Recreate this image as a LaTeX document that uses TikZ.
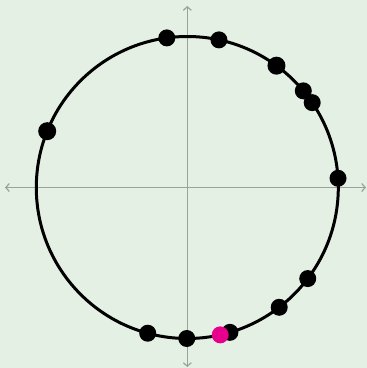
\documentclass[tikz,border=0pt]{standalone}
\usetikzlibrary{arrows.meta}
\definecolor{bgc}{RGB}{229,240,229}
\definecolor{axc}{RGB}{155,162,155}
\definecolor{mag}{RGB}{230,0,140}
\begin{document}
\begin{tikzpicture}[x=1pt,y=-1pt,
  axis/.style={draw=axc,line width=1.2pt,{Straight Barb[length=3.5pt,width=8pt]}-{Straight Barb[length=3.5pt,width=8pt]}},
  dot/.style={circle,fill=black,inner sep=0pt,minimum size=17pt},
  pdot/.style={circle,fill=mag,inner sep=0pt,minimum size=17pt},
  ring/.style={draw=black,line width=3pt}]
\fill[bgc] (0,0) rectangle (367,368);
\useasboundingbox (0,0) rectangle (367,368);
\coordinate (O) at (187.3,187.5);
\coordinate (xl) at (5,187.5);
\coordinate (xr) at (366,187.5);
\coordinate (yt) at (187.3,6);
\coordinate (yb) at (187.3,367);
\draw[axis] (xl) -- (xr);
\draw[axis] (yb) -- (yt);
\draw[ring] (O) circle[radius=151];
\begin{scope}[shift={(187.3,187.5)},x=1pt,y=1pt]
\node[dot] (p1) at (97.8:151) {};
\node[dot] (p2) at (77.9:151) {};
\node[dot,minimum size=18pt] (p3) at (53.8:151) {};
\node[dot] (p4) at (39.8:151) {};
\node[dot] (p5) at (34.2:151) {};
\node[dot,minimum size=18pt] (p6) at (158.1:151) {};
\node[dot] (p7) at (3.5:151) {};
\node[dot] (p8) at (-37.1:151) {};
\node[dot] (p9) at (-52.5:151) {};
\node[dot] (p10) at (-73.6:151) {};
\node[dot] (p11) at (-105.2:151) {};
\node[dot] (p12) at (-90.2:151) {};
\node[pdot] (m) at (-77.4:151) {};
\end{scope}
\end{tikzpicture}
\end{document}
